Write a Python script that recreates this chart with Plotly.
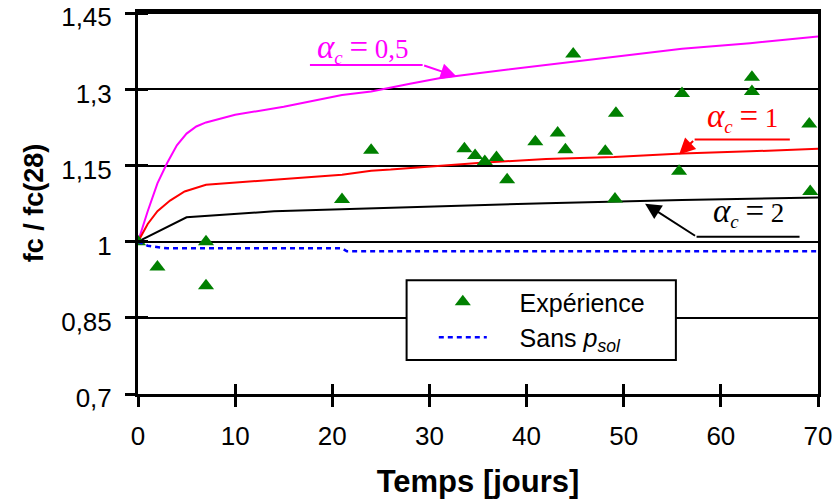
import plotly.graph_objects as go

# ---- data ----
exp_days = [0, 2, 7, 7, 21, 24, 33.6, 34.7, 35.7, 36.9, 38, 40.9, 43.2, 44, 44.8,
            48.1, 49.1, 49.2, 55.7, 56, 63.2, 63.2, 69.1, 69.2]
exp_ratio = [1.0, 0.95, 1.0, 0.913, 1.083, 1.18, 1.183, 1.17, 1.158, 1.166, 1.122, 1.197,
             1.214, 1.181, 1.37, 1.178, 1.084, 1.253, 1.139, 1.292, 1.324, 1.296, 1.232, 1.099]

a05_days = [0, 1, 2, 3, 4, 5, 6, 7, 10, 15, 21, 24, 28, 31, 35, 42, 49, 56, 63, 70]
a05_ratio = [1.0, 1.06, 1.115, 1.155, 1.19, 1.213, 1.227, 1.235, 1.25, 1.266, 1.289, 1.296,
             1.311, 1.322, 1.332, 1.348, 1.363, 1.38, 1.391, 1.404]

a1_days = [0, 1, 2, 3.3, 4.8, 7, 14, 21, 24, 26, 35, 42, 49, 56, 63, 70]
a1_ratio = [1.0, 1.035, 1.06, 1.081, 1.099, 1.112, 1.122, 1.132, 1.14, 1.142, 1.155, 1.163,
            1.167, 1.174, 1.178, 1.183]

a2_days = [0, 5, 14, 21, 28, 42, 56, 70]
a2_ratio = [1.0, 1.048, 1.06, 1.064, 1.068, 1.076, 1.082, 1.087]

sans_days = [0, 1, 3, 21, 21.5, 70]
sans_ratio = [1.0, 0.992, 0.987, 0.987, 0.981, 0.981]

x_ticks = [0, 10, 20, 30, 40, 50, 60, 70]
y_ticks = [0.7, 0.85, 1.0, 1.15, 1.3, 1.45]
y_tick_labels = ["0,7", "0,85", "1", "1,15", "1,3", "1,45"]

X_RANGE = [0, 70]
Y_RANGE = [0.7, 1.4525]

BIG = "<span style='font-size:33px'>{}</span>"

def alpha_label(value):
    return ("<i>" + BIG.format("α") + "</i><sub><i>c</i></sub> "
            + BIG.format("=") + " " + value)

# label texts, positions (text centre, underline start/end, arrow tip)
labels = [
    dict(text=alpha_label("0,5"), color="#FF00FF", tx=23.2, ty=1.38,
         ux0=17.7, ux1=29.3, uy=1.348, tipx=32.8, tipy=1.3255, tail="right"),
    dict(text=alpha_label("1"), color="#FF0000", tx=62.2, ty=1.245,
         ux0=57.3, ux1=67.1, uy=1.2014, tipx=55.7, tipy=1.172, tail="left"),
    dict(text=alpha_label("2"), color="#000000", tx=62.8, ty=1.057,
         ux0=57.5, ux1=68.1, uy=1.0098, tipx=52.2, tipy=1.075, tail="left"),
]

fig = go.Figure()

# invisible copy on the overlay axes so that they (inner half of the ticks) get drawn
fig.add_trace(go.Scatter(x=exp_days, y=exp_ratio, xaxis="x2", yaxis="y2", mode="markers",
                         marker=dict(opacity=0), showlegend=False, hoverinfo="skip"))

fig.add_trace(go.Scatter(x=a05_days, y=a05_ratio, mode="lines",
                         line=dict(color="#FF00FF", width=2), showlegend=False))
fig.add_trace(go.Scatter(x=a1_days, y=a1_ratio, mode="lines",
                         line=dict(color="#FF0000", width=2), showlegend=False))
fig.add_trace(go.Scatter(x=a2_days, y=a2_ratio, mode="lines",
                         line=dict(color="#000000", width=2), showlegend=False))
fig.add_trace(go.Scatter(x=exp_days, y=exp_ratio, mode="markers",
                         name="\u00a0\u00a0\u00a0\u00a0Expérience",
                         marker=dict(symbol="triangle-up", size=14, color="#008000")))
fig.add_trace(go.Scatter(x=sans_days, y=sans_ratio, mode="lines",
                         name="\u00a0\u00a0\u00a0\u00a0Sans <i>p</i><sub><i>sol</i></sub>",
                         line=dict(color="#0000FF", width=2.5, dash="5px,4px")))

for lb in labels:
    fig.add_annotation(x=lb["tx"], y=lb["ty"], xref="x", yref="y", text=lb["text"],
                       showarrow=False,
                       font=dict(family="Liberation Serif", size=27, color=lb["color"]))
    fig.add_shape(type="line", xref="x", yref="y", x0=lb["ux0"], x1=lb["ux1"],
                  y0=lb["uy"], y1=lb["uy"], line=dict(color=lb["color"], width=2))
    tailx = lb["ux1"] if lb["tail"] == "right" else lb["ux0"]
    fig.add_annotation(x=lb["tipx"], y=lb["tipy"], xref="x", yref="y",
                       ax=tailx, ay=lb["uy"], axref="x", ayref="y", text="",
                       showarrow=True, arrowhead=2, arrowsize=1.6, arrowwidth=2,
                       arrowcolor=lb["color"])

# legend frame (white box hiding the grid line behind the legend)
fig.add_shape(type="rect", xref="paper", yref="paper", x0=0.395, x1=0.791,
              y0=0.089, y1=0.298, line=dict(color="black", width=2),
              fillcolor="white", layer="above")

tick_style = dict(ticklen=10, tickwidth=3, tickcolor="black")

fig.update_layout(
    width=836, height=499,
    margin=dict(l=138, r=18, t=12, b=105),
    paper_bgcolor="white", plot_bgcolor="white",
    font=dict(family="Liberation Sans, Arial", size=26, color="black"),
    legend=dict(x=0.435, xanchor="left", y=0.301, yanchor="top",
                borderwidth=0, bgcolor="rgba(0,0,0,0)",
                font=dict(size=25), itemwidth=48, tracegroupgap=0),
    xaxis=dict(range=X_RANGE, tickvals=x_ticks, showgrid=False, zeroline=False,
               showline=True, mirror=True, linecolor="black", linewidth=3,
               automargin=False, ticklabelstandoff=7, ticklabeloverflow="allow",
               ticks="outside", **tick_style,
               title=dict(text="<b>Temps [jours]</b>", font=dict(size=31), standoff=22)),
    yaxis=dict(range=Y_RANGE, tickvals=y_ticks, ticktext=y_tick_labels,
               showgrid=True, gridcolor="black", gridwidth=2, zeroline=False,
               showline=True, mirror=True, linecolor="black", linewidth=3,
               automargin=False, ticklabelstandoff=8, ticklabelshift=4,
               ticklabeloverflow="allow",
               ticks="outside", **tick_style,
               title=dict(text="<b>fc / fc(28)</b>", font=dict(size=27), standoff=10)),
    # overlay axes that draw the inner half of the crossing tick marks
    xaxis2=dict(range=X_RANGE, tickvals=x_ticks, overlaying="x", anchor="y2",
                side="bottom", showgrid=False, zeroline=False, showline=False,
                showticklabels=False, ticks="inside", automargin=False, **tick_style),
    yaxis2=dict(range=Y_RANGE, tickvals=y_ticks, overlaying="y", anchor="x2",
                side="left", showgrid=False, zeroline=False, showline=False,
                showticklabels=False, ticks="inside", automargin=False, **tick_style),
)

fig.write_html("out.html", config={"displayModeBar": False},
               post_script="document.body.style.margin='0px';")
